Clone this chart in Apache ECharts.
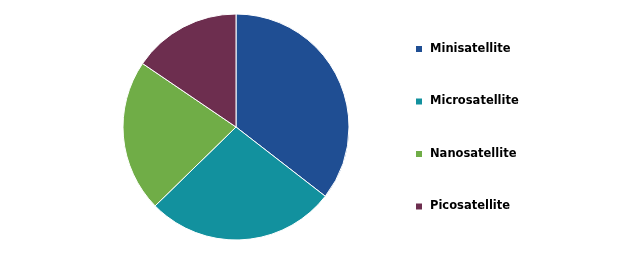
<!DOCTYPE html>
<html><head><meta charset="utf-8">
<script src="https://cdn.jsdelivr.net/npm/echarts@6/dist/echarts.min.js"></script>
<style>html,body{margin:0;padding:0;background:#fff}#c{width:620px;height:256px}</style>
</head><body><div id="c"></div>
<script>
const categories = ["Minisatellite", "Microsatellite", "Nanosatellite", "Picosatellite"];
const values = [35.5, 27.2, 21.8, 15.5];
const colors = ["#1F4E93", "#12919E", "#70AD47", "#6D2E4F"];

const chart = echarts.init(document.getElementById('c'), null, {renderer: 'canvas'});
chart.setOption({
  animation: false,
  color: colors,
  legend: {
    orient: 'vertical',
    left: 409, top: 38,
    icon: 'rect', itemWidth: 8, itemHeight: 8,
    itemGap: 40.5,
    textStyle: {fontFamily: 'DejaVu Sans, Verdana, sans-serif', fontWeight: 'bold', fontSize: 11.5, color: '#000', padding: [0,0,0,2]},
    data: categories
  },
  series: [{
    type: 'pie',
    center: [236, 127],
    radius: [0, 113],
    startAngle: 90,
    clockwise: true,
    label: {show: false},
    labelLine: {show: false},
    emphasis: {disabled: true},
    itemStyle: {borderColor: '#fff', borderWidth: 1},
    data: categories.map((n, i) => ({name: n, value: values[i]}))
  }]
});
</script></body></html>
